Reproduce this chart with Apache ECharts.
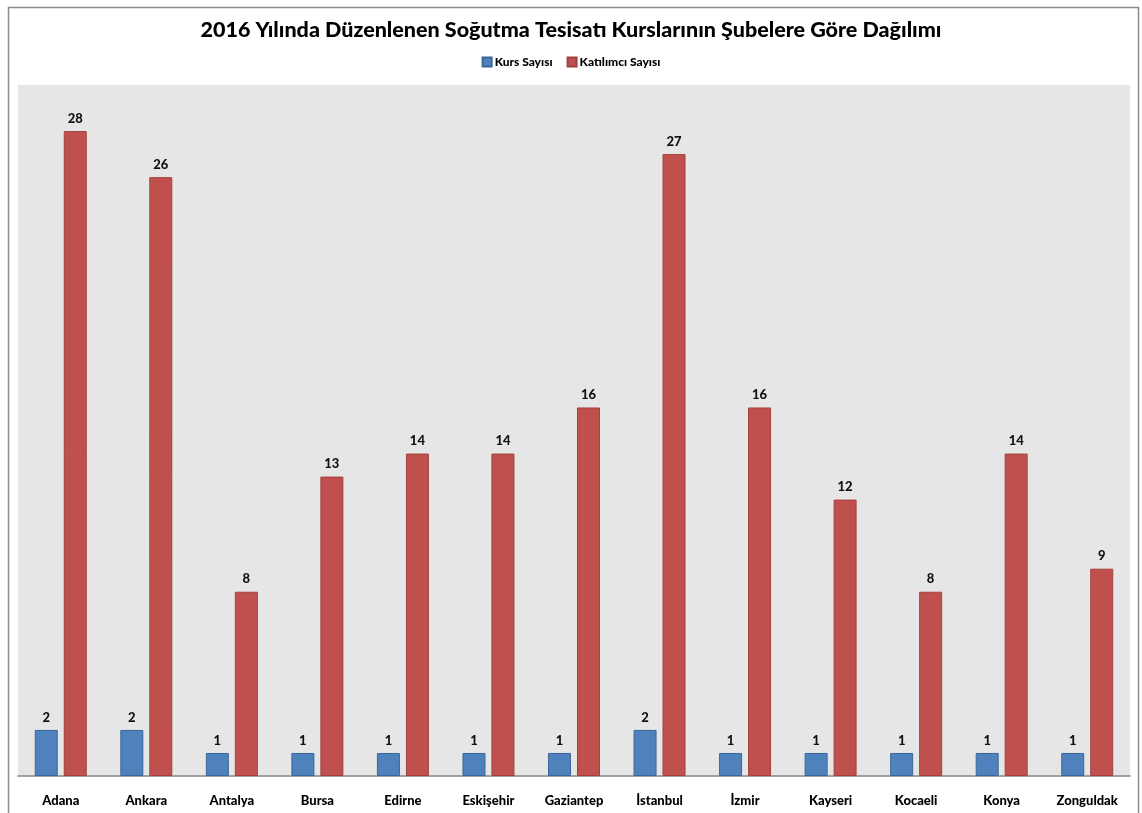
<!DOCTYPE html>
<html>
<head>
<meta charset="utf-8">
<script src="https://cdn.jsdelivr.net/npm/echarts@6/dist/echarts.min.js"></script>
<style>
  html, body { margin: 0; padding: 0; background: #fff; }
  #chart { width: 1142px; height: 813px; }
</style>
</head>
<body>
<div id="chart"></div>
<script>
// Branches (şubeler)
const branches = ['Adana', 'Ankara', 'Antalya', 'Bursa', 'Edirne', 'Eskişehir', 'Gaziantep', 'İstanbul', 'İzmir', 'Kayseri', 'Kocaeli', 'Konya', 'Zonguldak'];
// Number of courses per branch
const courseCounts = [2, 2, 1, 1, 1, 1, 1, 2, 1, 1, 1, 1, 1];
// Number of participants per branch
const participantCounts = [28, 26, 8, 13, 14, 14, 16, 27, 16, 12, 8, 14, 9];

const FONT = 'Lato, "Open Sans", sans-serif';

const chart = echarts.init(document.getElementById('chart'), null, { renderer: 'canvas' });

const labelStyle = {
  show: true,
  position: 'top',
  distance: 6,
  fontFamily: FONT,
  fontWeight: 900,
  fontSize: 13,
  color: '#111'
};

chart.setOption({
  animation: false,
  backgroundColor: '#fff',
  textStyle: { fontFamily: FONT },
  title: {
    text: '2016 Yılında Düzenlenen Soğutma Tesisatı Kurslarının Şubelere Göre Dağılımı',
    left: 'center',
    top: 14,
    textStyle: { fontFamily: FONT, fontWeight: 900, fontSize: 21.5, color: '#000' }
  },
  legend: {
    top: 51,
    left: 'center',
    itemWidth: 9,
    itemHeight: 9,
    itemGap: 14,
    icon: 'rect',
    textStyle: { fontFamily: FONT, fontWeight: 900, fontSize: 12, color: '#000', padding: [0, 0, 0, -2] },
    data: ['Kurs Sayısı', 'Katılımcı Sayısı']
  },
  graphic: [{
    type: 'rect',
    left: 6,
    top: 5,
    shape: { width: 1130, height: 820 },
    style: { fill: 'none', stroke: '#8c8c8c', lineWidth: 1.5 },
    silent: true,
    z: -1
  }],
  grid: {
    left: 18,
    right: 12,
    top: 85,
    bottom: 37,
    show: true,
    backgroundColor: '#e6e6e6',
    borderWidth: 0
  },
  xAxis: {
    type: 'category',
    data: branches,
    axisLine: { show: true, lineStyle: { color: '#868686', width: 1.5 } },
    axisTick: { show: false },
    axisLabel: {
      interval: 0,
      margin: 18,
      fontFamily: FONT,
      fontWeight: 900,
      fontSize: 13,
      color: '#000'
    }
  },
  yAxis: {
    type: 'value',
    min: 0,
    max: 30,
    interval: 10,
    show: false,
    splitLine: { show: false }
  },
  series: [
    {
      name: 'Kurs Sayısı',
      type: 'bar',
      data: courseCounts,
      barWidth: 23,
      barGap: '26%',
      itemStyle: { color: '#4f81bd', borderColor: '#3a6797', borderWidth: 1 },
      label: labelStyle
    },
    {
      name: 'Katılımcı Sayısı',
      type: 'bar',
      data: participantCounts,
      barWidth: 23,
      barGap: '26%',
      itemStyle: { color: '#c0504d', borderColor: '#a3403d', borderWidth: 1 },
      label: labelStyle
    }
  ]
});
</script>
</body>
</html>
